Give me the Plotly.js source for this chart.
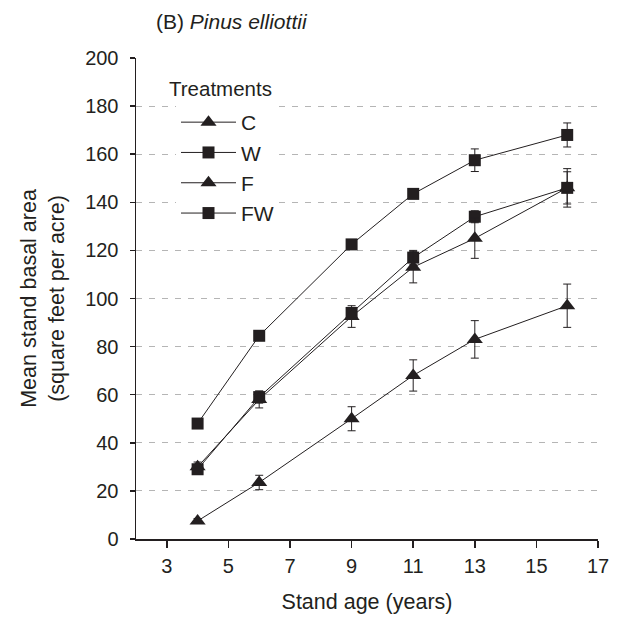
<!DOCTYPE html>
<html>
<head>
<meta charset="utf-8">
<script src="https://cdn.plot.ly/plotly-3.0.1.min.js"></script>
<style>
  html, body { margin: 0; padding: 0; background: #ffffff; }
  #chart { width: 618px; height: 622px; }
</style>
</head>
<body>
<div id="chart"></div>
<script>
// Stand age (years)
var standAge = [4, 6, 9, 11, 13, 16];

// Mean stand basal area (square feet per acre)
var seriesNames = ["C", "W", "F", "FW"];
var valuesC  = [7.5, 23.5, 50, 68, 83, 97];
var valuesW  = [29, 59, 94, 117, 134, 146];
var valuesF  = [30, 58, 92.5, 113, 125, 146];
var valuesFW = [48, 84.5, 122.5, 143.5, 157.5, 168];

// Error bars (± one standard error)
var errC  = [1, 3, 5, 6.5, 7.8, 9];
var errW  = [1, 2.5, 1.5, 3, 2.5, 6.7];
var errF  = [2, 3.5, 4.5, 6.5, 8.3, 8];
var errFW = [1, 1, 1, 1, 4.7, 5];

var yTickVals = [0, 20, 40, 60, 80, 100, 120, 140, 160, 180, 200];
var xTickVals = [3, 5, 7, 9, 11, 13, 15, 17];

var legendTitle = "Treatments";
var chartTitle = "(B) <i>Pinus elliottii</i>";

var ink = "#231f20";
var fontFam = "Liberation Sans, Arial, Helvetica, sans-serif";

function makeTrace(name, y, err, symbol, size) {
  return {
    x: standAge,
    y: y,
    name: name,
    type: "scatter",
    mode: "lines+markers",
    line: { color: ink, width: 1 },
    marker: { symbol: symbol, size: size, color: ink },
    error_y: { type: "data", array: err, visible: true, color: ink, thickness: 1, width: 4 }
  };
}

var data = [
  makeTrace(seriesNames[0], valuesC, errC, "triangle-up", 14),
  makeTrace(seriesNames[1], valuesW, errW, "square", 12),
  makeTrace(seriesNames[2], valuesF, errF, "triangle-up", 14),
  makeTrace(seriesNames[3], valuesFW, errFW, "square", 12)
];

var layout = {
  width: 618,
  height: 622,
  paper_bgcolor: "#ffffff",
  plot_bgcolor: "#ffffff",
  margin: { l: 136, r: 20, t: 58, b: 83 },
  font: { family: fontFam, color: ink, size: 20 },
  title: {
    text: chartTitle,
    font: { family: fontFam, size: 21, color: ink },
    xref: "container", x: 156 / 618, xanchor: "left",
    yref: "container", y: 1 - 22 / 622, yanchor: "middle"
  },
  showlegend: true,
  legend: {
    font: { size: 21, color: ink },
    x: (176 - 136) / 462, xanchor: "left",
    y: (539 - 102) / 481, yanchor: "top",
    bgcolor: "#ffffff",
    borderwidth: 0,
    traceorder: "normal",
    itemwidth: 55
  },
  annotations: [{
    text: legendTitle,
    xref: "paper", yref: "paper",
    x: (167 - 136) / 462, xanchor: "left",
    y: (539 - 88) / 481, yanchor: "middle",
    showarrow: false,
    bgcolor: "#ffffff",
    font: { size: 20.5, color: ink }
  }],
  xaxis: {
    range: [2, 17],
    tickvals: xTickVals,
    ticktext: xTickVals.map(String),
    ticks: "outside", ticklen: 7, tickwidth: 1.5, tickcolor: ink,
    showline: true, linecolor: ink, linewidth: 1.5,
    showgrid: false, zeroline: false,
    tickfont: { size: 20, color: ink },
    ticklabelstandoff: 1,
    title: { text: "Stand age (years)", font: { size: 21.5, color: ink }, standoff: 18 }
  },
  yaxis: {
    range: [0, 200],
    tickvals: yTickVals,
    ticktext: yTickVals.map(String),
    ticks: "outside", ticklen: 5, tickwidth: 1.5, tickcolor: ink,
    showline: true, linecolor: ink, linewidth: 1.5,
    showgrid: true, gridcolor: "#b5b5b5", gridwidth: 1, griddash: "6px,7px",
    zeroline: false,
    tickfont: { size: 20, color: ink },
    ticklabelstandoff: 7,
    title: { text: "Mean stand basal area<br>(square feet per acre)", font: { size: 21.5, color: ink }, standoff: 14 }
  }
};

Plotly.newPlot("chart", data, layout, { displayModeBar: false, staticPlot: true });
</script>
</body>
</html>
